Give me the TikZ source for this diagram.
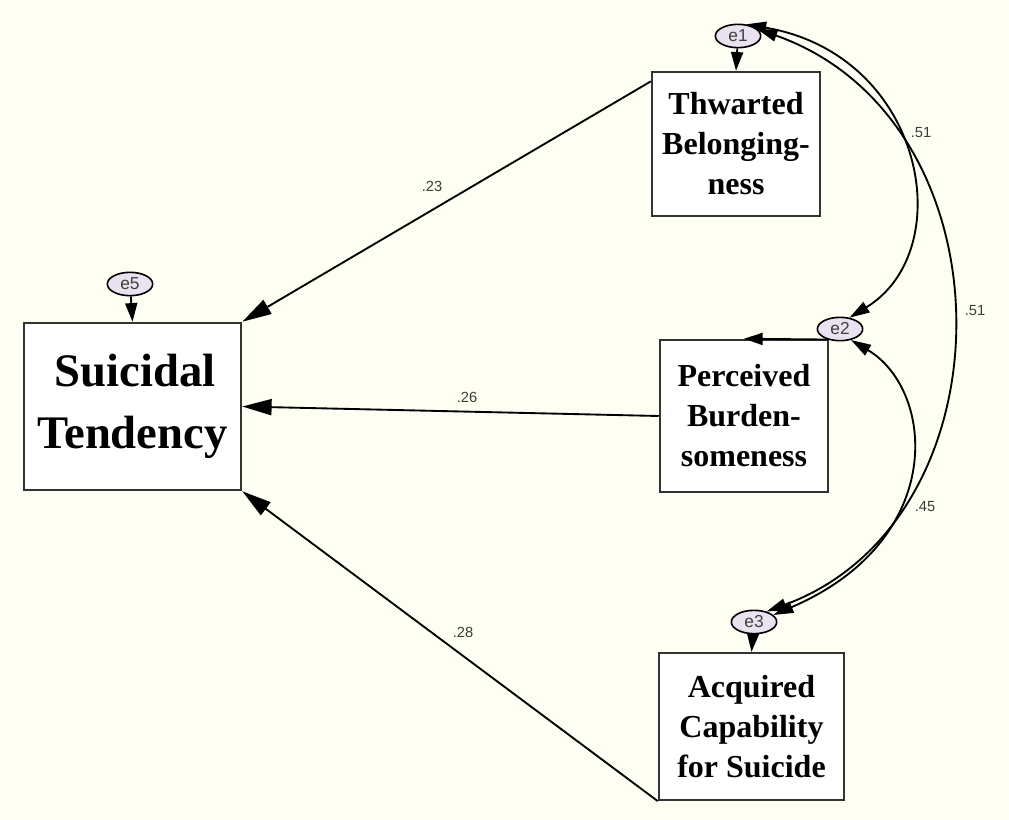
\documentclass[tikz,border=0pt]{standalone}
\usepackage{fontspec}
\setmainfont{Liberation Serif}
\setsansfont{Liberation Sans}
\usetikzlibrary{arrows.meta,shapes.geometric,calc}
\definecolor{bgcream}{HTML}{FEFEF3}
\definecolor{errfill}{HTML}{EAE2F0}
\definecolor{labgray}{HTML}{3A3A3A}
\definecolor{boxline}{HTML}{333333}
\begin{document}
\begin{tikzpicture}[x=0.75pt,y=-0.75pt,
  varbox/.style={draw=boxline,line width=1.9pt,fill=white,rectangle,inner sep=0pt,align=center,font=\bfseries\fontsize{24}{30}\selectfont},
  errnode/.style={draw=black,line width=1.2pt,fill=errfill,ellipse,inner sep=0pt,minimum width=34pt,minimum height=17.5pt,font=\sffamily\fontsize{13}{13}\selectfont,text=black!75},
  patharrow/.style={line width=1.4pt,-{Triangle[length=22pt,width=12pt]}},
  errarrow/.style={line width=1.4pt,-{Triangle[length=14pt,width=9pt]}},
  covarrow/.style={line width=1.4pt,{Triangle[length=15pt,width=9pt]}-{Triangle[length=15pt,width=9pt]}},
  coef/.style={font=\sffamily\fontsize{11}{12}\selectfont,text=labgray}]
\fill[bgcream] (0,0) rectangle (1009,820);
\useasboundingbox (0,0) rectangle (1009,820);

% boxes
\node[varbox,minimum width=162.75pt,minimum height=125.25pt,font=\bfseries\fontsize{35}{46}\selectfont] (st) at (132.5,406.5) {\hspace*{4pt}Suicidal\\Tendency};
\node[varbox,minimum width=126pt,minimum height=108pt] (tb) at (736,144) {Thwarted\\Belonging-\\ness};
\node[varbox,minimum width=126pt,minimum height=114pt] (pb) at (744,416) {Perceived\\Burden-\\someness};
\node[varbox,minimum width=138.75pt,minimum height=110pt] (ac) at (751.5,726.5) {Acquired\\Capability\\for Suicide};

% error terms
\node[errnode] (e1) at (738,36) {e1};
\node[errnode] (e2) at (840,329) {e2};
\node[errnode] (e3) at (754,622) {e3};
\node[errnode] (e5) at (130,284) {e5};

% error arrows
\draw[errarrow] (e1) -- (tb.north);
\draw[errarrow] (e2.-140) -- (pb.north);
\draw[errarrow] (e3) -- (ac.north);
\draw[errarrow] (e5) -- (st.north);

% structural paths
\draw[patharrow] ([yshift=-8pt]tb.north west) -- (st.north east);
\draw[patharrow] (pb.west) -- (st.east);
\draw[patharrow] (ac.south west) -- (st.south east);

% covariances
\draw[covarrow] (e1.55) .. controls (925,55) and (960,250) .. (e2.50);
\draw[covarrow] (e1.20) .. controls (1015,120) and (1015,520) .. (e3.40);
\draw[covarrow] (e2.-45) .. controls (935,390) and (948,540) .. (e3.20);

% coefficients
\node[coef] (c1) at (432,186) {.23};
\node[coef] (c2) at (467,397) {.26};
\node[coef] (c3) at (463,632) {.28};
\node[coef] (c4) at (921,133) {.51};
\node[coef] (c5) at (975,311) {.51};
\node[coef] (c6) at (925,507) {.45};
\end{tikzpicture}
\end{document}
